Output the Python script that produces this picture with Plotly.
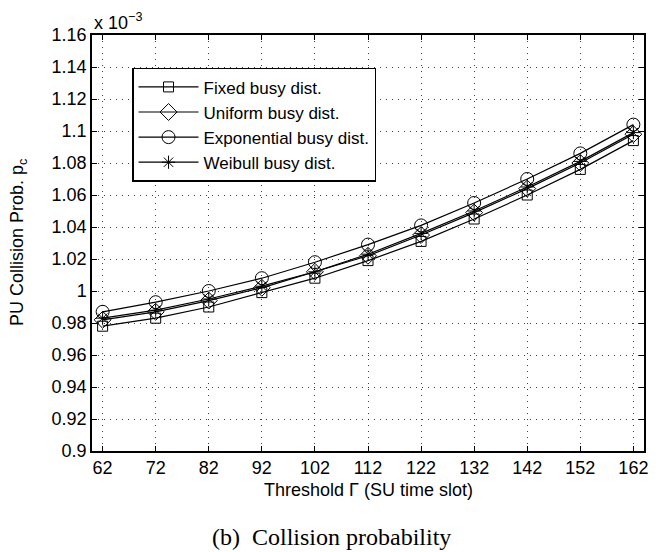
import plotly.graph_objects as go

thresholds = [62, 72, 82, 92, 102, 112, 122, 132, 142, 152, 162]
fixed = [0.978, 0.983, 0.990, 0.999, 1.008, 1.019, 1.031, 1.045, 1.060, 1.076, 1.094]
uniform = [0.982, 0.987, 0.994, 1.002, 1.012, 1.022, 1.035, 1.049, 1.064, 1.080, 1.098]
exponential = [0.987, 0.993, 1.000, 1.008, 1.018, 1.029, 1.041, 1.055, 1.070, 1.086, 1.104]
weibull = [0.983, 0.988, 0.995, 1.003, 1.012, 1.023, 1.036, 1.050, 1.065, 1.081, 1.099]

series_names = ["Fixed busy dist.", "Uniform busy dist.", "Exponential busy dist.", "Weibull busy dist."]
y_ticks = [0.9, 0.92, 0.94, 0.96, 0.98, 1.0, 1.02, 1.04, 1.06, 1.08, 1.1, 1.12, 1.14, 1.16]
y_ticktext = ["0.9", "0.92", "0.94", "0.96", "0.98", "1", "1.02", "1.04", "1.06", "1.08", "1.1", "1.12", "1.14", "1.16"]

symbols = ["square-open", "diamond-open", "circle-open", "asterisk-open"]
sizes = [10, 13, 13, 11]

fig = go.Figure()
for name, vals, sym, sz in zip(series_names, [fixed, uniform, exponential, weibull], symbols, sizes):
    fig.add_trace(go.Scatter(
        x=thresholds, y=vals, mode="lines+markers", name=name,
        line=dict(color="black", width=1.2),
        marker=dict(symbol=sym, size=sz, color="black", line=dict(width=1, color="black")),
    ))

font_main = "Liberation Sans, Arial, sans-serif"
axis_common = dict(
    showline=True, linecolor="black", linewidth=1.5, mirror="ticks",
    ticks="inside", ticklen=5, tickcolor="black",
    showgrid=True, gridcolor="rgba(0,0,0,0.75)", griddash="1px,5px", gridwidth=1,
    zeroline=False, tickfont=dict(family=font_main, size=18, color="black"),
)

fig.update_layout(
    width=663, height=552,
    margin=dict(l=92, r=19, t=35, b=101),
    paper_bgcolor="white", plot_bgcolor="white",
    showlegend=True,
    legend=dict(
        x=0.0725, y=0.921, xanchor="left", yanchor="top",
        bgcolor="white", bordercolor="black", borderwidth=1.5,
        font=dict(family=font_main, size=17, color="black"),
        itemwidth=60, tracegroupgap=0,
    ),
    xaxis=dict(range=[60, 164], tickvals=thresholds, **axis_common),
    yaxis=dict(range=[0.9, 1.16], tickvals=y_ticks, ticktext=y_ticktext, **axis_common),
    annotations=[
        dict(text="Threshold Γ (SU time slot)", xref="paper", yref="paper", x=0.5, y=-0.093,
             xanchor="center", yanchor="middle", showarrow=False,
             font=dict(family=font_main, size=18, color="black")),
        dict(text="PU Collision Prob. p<sub>c</sub>", xref="paper", yref="paper", x=-0.134, y=0.5,
             xanchor="center", yanchor="middle", showarrow=False, textangle=-90,
             font=dict(family=font_main, size=18, color="black")),
        dict(text="x 10<sup>−3</sup>", xref="paper", yref="paper", x=0.0, y=1.0,
             xanchor="left", yanchor="bottom", showarrow=False,
             font=dict(family=font_main, size=18, color="black")),
        dict(text="(b)  Collision probability", xref="paper", yref="paper", x=0.434, y=-0.207,
             xanchor="center", yanchor="middle", showarrow=False,
             font=dict(family="Liberation Serif, Times New Roman, serif", size=24, color="black")),
    ],
)

fig.write_html("out.html")
